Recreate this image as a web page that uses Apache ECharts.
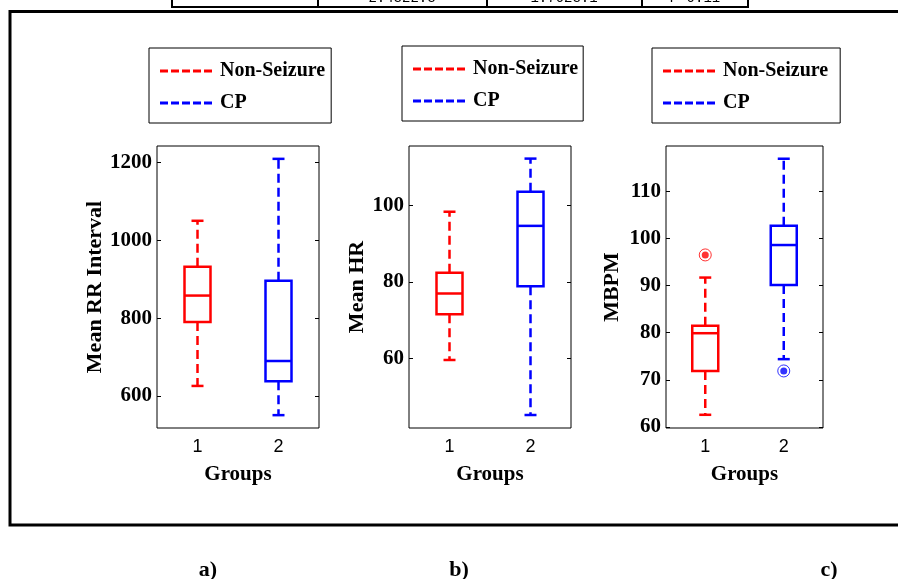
<!DOCTYPE html>
<html>
<head>
<meta charset="utf-8">
<script src="https://cdn.jsdelivr.net/npm/echarts@6/dist/echarts.min.js"></script>
<style>
html, body { margin: 0; padding: 0; background: #fff; }
#main { width: 898px; height: 579px; }
</style>
</head>
<body>
<div id="main"></div>
<script>
// groups on the x axis and the two classes
var groups = ['1', '2'];
var classNames = ['Non-Seizure', 'CP'];
var classColors = ['#ff0000', '#0000ff'];

// box stats: [min, Q1, median, Q3, max]
var rrNonSeizure = [626, 790, 858, 932, 1050];
var rrCP = [551, 638, 690, 896, 1209];
var hrNonSeizure = [59.6, 71.6, 77.0, 82.4, 98.4];
var hrCP = [45.2, 78.9, 94.7, 103.6, 112.3];
var bpmNonSeizure = [62.6, 71.9, 79.9, 81.5, 91.7];
var bpmCP = [74.4, 90.1, 98.6, 102.7, 116.9];
var bpmNonSeizureOutliers = [96.5];
var bpmCPOutliers = [71.9];

// axes
var rrTicks = [600, 800, 1000, 1200];
var hrTicks = [60, 80, 100];
var bpmTicks = [60, 70, 80, 90, 100, 110];
var rrLimits = [518, 1242];
var hrLimits = [41.8, 115.6];
var bpmLimits = [59.8, 119.6];
var yNames = ['Mean RR Interval', 'Mean HR', 'MBPM'];
var xName = 'Groups';
var panelLabels = ['a)', 'b)', 'c)'];
var tableCells = ['2.4322.3', '1.7623.1', 'P=0.11'];

var serif = '"Liberation Serif", "Times New Roman", serif';
var sans = '"Liberation Sans", Arial, sans-serif';

var panels = [
    { boxes: [rrNonSeizure, rrCP], outliers: [[], []], ticks: rrTicks, limits: rrLimits,
      grid: { left: 157, top: 146, width: 162, height: 282 }, nameGap: 44, legend: [149, 48], legendPadRight: 6 },
    { boxes: [hrNonSeizure, hrCP], outliers: [[], []], ticks: hrTicks, limits: hrLimits,
      grid: { left: 409, top: 146, width: 162, height: 282 }, nameGap: 40, legend: [402, 46], legendPadRight: 5 },
    { boxes: [bpmNonSeizure, bpmCP], outliers: [bpmNonSeizureOutliers, bpmCPOutliers], ticks: bpmTicks, limits: bpmLimits,
      grid: { left: 666, top: 146, width: 157, height: 282 }, nameGap: 43, legend: [652, 48], legendPadRight: 12 }
];

var dashIcon = 'path://M0,0H8V3H0Z M11,0H19V3H11Z M22,0H30V3H22Z M33,0H41V3H33Z M44,0H52V3H44Z';

function renderBox(params, api) {
    var cat = api.value(0);
    var pMin = api.coord([cat, api.value(1)]);
    var pQ1 = api.coord([cat, api.value(2)]);
    var pMed = api.coord([cat, api.value(3)]);
    var pQ3 = api.coord([cat, api.value(4)]);
    var pMax = api.coord([cat, api.value(5)]);
    var x = pMin[0];
    var hw = 13, cw = 6;
    var color = api.visual('color');
    var solid = { stroke: color, lineWidth: 2.5 };
    var dashed = { stroke: color, lineWidth: 2.5, lineDash: [9, 5] };
    return {
        type: 'group',
        children: [
            { type: 'line', shape: { x1: x, y1: pQ3[1], x2: x, y2: pMax[1] }, style: dashed },
            { type: 'line', shape: { x1: x, y1: pQ1[1], x2: x, y2: pMin[1] }, style: dashed },
            { type: 'line', shape: { x1: x - cw, y1: pMax[1], x2: x + cw, y2: pMax[1] }, style: solid },
            { type: 'line', shape: { x1: x - cw, y1: pMin[1], x2: x + cw, y2: pMin[1] }, style: solid },
            { type: 'rect', shape: { x: x - hw, y: pQ3[1], width: 2 * hw, height: pQ1[1] - pQ3[1] },
              style: { stroke: color, lineWidth: 2.5, fill: '#fff' } },
            { type: 'line', shape: { x1: x - hw, y1: pMed[1], x2: x + hw, y2: pMed[1] }, style: solid }
        ]
    };
}

var grids = [], xAxes = [], yAxes = [], series = [], legends = [];

panels.forEach(function (p, i) {
    grids.push({ left: p.grid.left, top: p.grid.top, width: p.grid.width, height: p.grid.height,
        show: true, borderColor: '#000', borderWidth: 1, backgroundColor: 'transparent' });
    xAxes.push({
        type: 'category', gridIndex: i, data: groups, boundaryGap: true,
        axisLine: { show: false }, axisTick: { show: false }, splitLine: { show: false },
        axisLabel: { color: '#000', fontFamily: sans, fontSize: 18, margin: 10 },
        name: xName, nameLocation: 'middle', nameGap: 36,
        nameTextStyle: { color: '#000', fontFamily: serif, fontWeight: 'bold', fontSize: 21 }
    });
    yAxes.push({
        type: 'value', gridIndex: i, position: 'left', min: p.limits[0], max: p.limits[1],
        axisLine: { show: false }, splitLine: { show: false },
        axisTick: { show: true, inside: true, length: 4, customValues: p.ticks, lineStyle: { color: '#000' } },
        axisLabel: { customValues: p.ticks, color: '#000', fontFamily: serif, fontWeight: 'bold', fontSize: 21, margin: 5,
            formatter: function (v) { return String(v); } },
        name: yNames[i], nameLocation: 'middle', nameRotate: 90, nameGap: p.nameGap,
        nameTextStyle: { color: '#000', fontFamily: serif, fontWeight: 'bold', fontSize: 22 }
    });
    yAxes.push({
        type: 'value', gridIndex: i, position: 'right', min: p.limits[0], max: p.limits[1],
        axisLine: { show: false }, splitLine: { show: false },
        axisTick: { show: true, inside: true, length: 4, customValues: p.ticks, lineStyle: { color: '#000' } },
        axisLabel: { show: false }
    });
    classNames.forEach(function (name, k) {
        series.push({
            type: 'custom', name: name, xAxisIndex: i, yAxisIndex: 2 * i,
            itemStyle: { color: classColors[k] },
            encode: { x: 0, y: [1, 2, 3, 4, 5] },
            renderItem: renderBox,
            data: [[k].concat(p.boxes[k])]
        });
        if (p.outliers[k].length) {
            var pts = p.outliers[k].map(function (v) { return [k, v]; });
            series.push({
                type: 'scatter', name: name, xAxisIndex: i, yAxisIndex: 2 * i,
                symbol: 'circle', symbolSize: 12,
                itemStyle: { color: 'transparent', borderColor: classColors[k], borderWidth: 1 },
                data: pts
            });
            series.push({
                type: 'scatter', name: name, xAxisIndex: i, yAxisIndex: 2 * i,
                symbol: 'circle', symbolSize: 7,
                itemStyle: { color: classColors[k] },
                data: pts
            });
        }
    });
    legends.push({
        left: p.legend[0], top: p.legend[1], orient: 'vertical',
        data: classNames.map(function (n, k) { return { name: n, itemStyle: { color: classColors[k] } }; }),
        icon: dashIcon, itemWidth: 52, itemHeight: 3, itemGap: 10,
        borderColor: '#000', borderWidth: 1, padding: [12, p.legendPadRight, 9, 11],
        selectedMode: false,
        textStyle: { color: '#000', fontFamily: serif, fontWeight: 'bold', fontSize: 20, lineHeight: 22, padding: [0, 0, 0, 3] }
    });
});

// outer frame, cut-off table above it, panel captions
var graphics = [
    { type: 'rect', shape: { x: 10, y: 11.5, width: 900, height: 513.5 }, style: { fill: null, stroke: '#000', lineWidth: 3 } },
    { type: 'rect', shape: { x: 172, y: -20, width: 576, height: 27 }, style: { fill: null, stroke: '#000', lineWidth: 2 } }
];
[318, 487, 642].forEach(function (x) {
    graphics.push({ type: 'line', shape: { x1: x, y1: -20, x2: x, y2: 7 }, style: { stroke: '#000', lineWidth: 2 } });
});
var cellCenters = [402, 564, 695];
tableCells.forEach(function (t, i) {
    graphics.push({ type: 'text', x: cellCenters[i], y: 5,
        style: { text: t, fill: '#000', font: '14px "Liberation Mono", monospace', textAlign: 'center', textVerticalAlign: 'bottom' } });
});
var labelX = [208, 459, 829];
panelLabels.forEach(function (t, i) {
    graphics.push({ type: 'text', x: labelX[i], y: 570,
        style: { text: t, fill: '#000', font: 'bold 22px ' + serif, textAlign: 'center', textVerticalAlign: 'middle' } });
});

var chart = echarts.init(document.getElementById('main'));
chart.setOption({
    animation: false,
    backgroundColor: '#fff',
    grid: grids,
    xAxis: xAxes,
    yAxis: yAxes,
    legend: legends,
    series: series,
    graphic: graphics
});
</script>
</body>
</html>
